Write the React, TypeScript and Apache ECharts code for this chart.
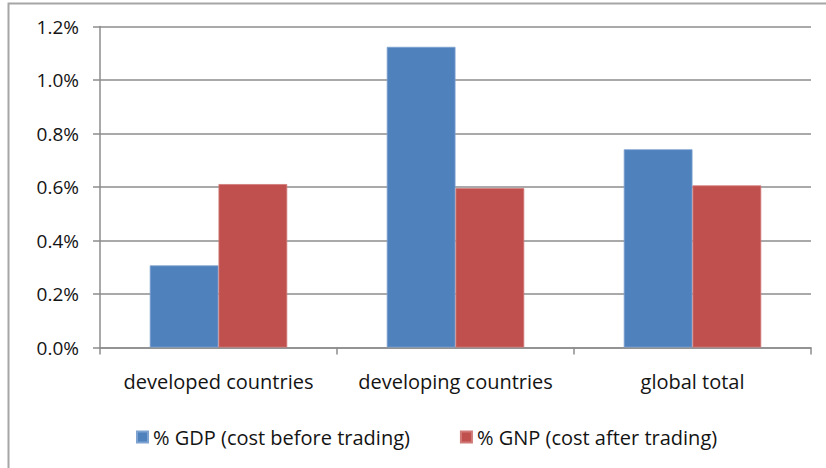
import React, { useEffect, useRef } from "react";
import * as echarts from "echarts";

const categories = ["developed countries", "developing countries", "global total"];
const gdpValues = [0.307, 1.124, 0.741];
const gnpValues = [0.611, 0.596, 0.606];
const seriesNames = ["% GDP (cost before trading)", "% GNP (cost after trading)"];

const FONT = "Open Sans";
const TEXT = "#141414";
const AXIS = "#8c8c8c";

export default function App() {
  const ref = useRef<HTMLDivElement>(null);
  useEffect(() => {
    const chart = echarts.init(ref.current!, undefined, { renderer: "svg" });
    chart.setOption({
      animation: false,
      backgroundColor: "#ffffff",
      textStyle: { fontFamily: FONT },
      graphic: [
        {
          type: "rect",
          shape: { x: 8.5, y: 3.5, width: 900, height: 600 },
          style: { fill: "none", stroke: "#a6a6a6", lineWidth: 2 },
          silent: true,
        },
      ],
      grid: { left: 100, right: 15, top: 26.5, bottom: 120.5 },
      legend: {
        left: 136,
        top: 427,
        padding: 0,
        icon: "rect",
        itemWidth: 11,
        itemHeight: 11,
        itemGap: 50,
        textStyle: { fontFamily: FONT, fontSize: 20, color: TEXT },
        data: seriesNames,
      },
      xAxis: {
        type: "category",
        data: categories,
        axisLine: { show: true, lineStyle: { color: AXIS, width: 1.5 } },
        axisTick: { show: true, length: 7, lineStyle: { color: AXIS, width: 1.5 } },
        axisLabel: { fontFamily: FONT, fontSize: 20, color: TEXT, margin: 24, interval: 0 },
      },
      yAxis: {
        type: "value",
        min: 0,
        max: 1.2,
        interval: 0.2,
        axisLine: { show: true, lineStyle: { color: AXIS, width: 1.5 } },
        axisTick: { show: true, length: 7, lineStyle: { color: AXIS, width: 1.5 } },
        splitLine: { show: true, lineStyle: { color: AXIS, width: 1.5 } },
        axisLabel: {
          fontFamily: FONT,
          fontSize: 19,
          color: TEXT,
          margin: 21,
          formatter: (v: number) => v.toFixed(1) + "%",
        },
      },
      series: [
        {
          name: seriesNames[0],
          type: "bar",
          data: gdpValues,
          barGap: "0%",
          barCategoryGap: "42%",
          itemStyle: { color: "#4f81bd", borderColor: "#7fa3d1", borderWidth: 0.8 },
        },
        {
          name: seriesNames[1],
          type: "bar",
          data: gnpValues,
          barGap: "0%",
          barCategoryGap: "42%",
          itemStyle: { color: "#c0504d", borderColor: "#d07a78", borderWidth: 0.8 },
        },
      ],
    });
    return () => chart.dispose();
  }, []);
  return (
    <div
      ref={ref}
      style={{ position: "absolute", left: 0, top: 0, width: 826, height: 468 }}
    />
  );
}
